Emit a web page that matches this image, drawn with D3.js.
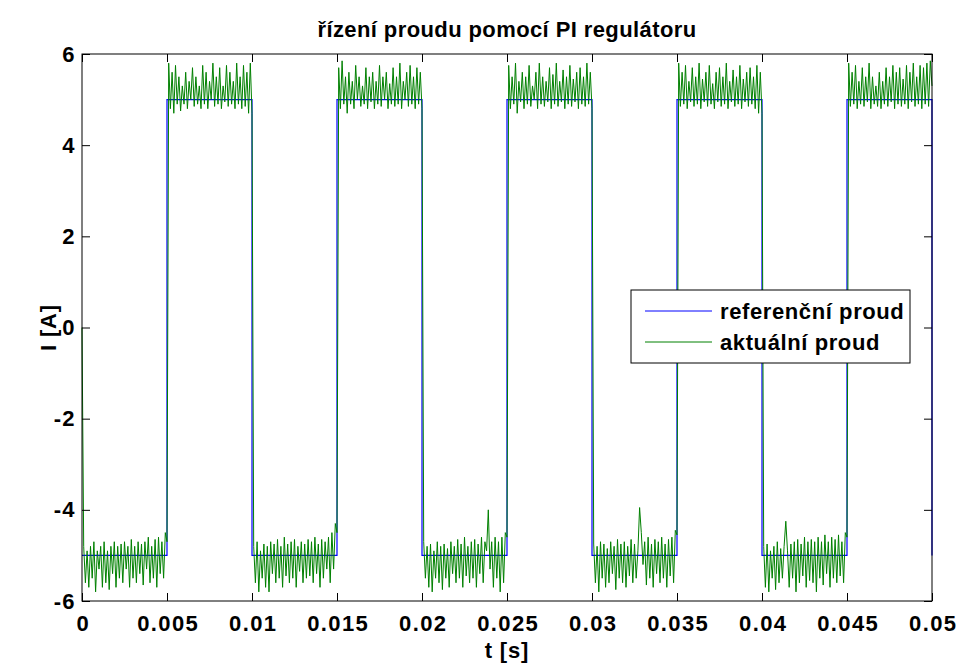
<!DOCTYPE html>
<html>
<head>
<meta charset="utf-8">
<script src="https://cdn.jsdelivr.net/npm/d3@7"></script>
<style>
  body { margin: 0; background: #fff; }
  text { font-family: "Liberation Sans", Arial, sans-serif; font-weight: bold; fill: #000; }
</style>
</head>
<body>
<div class="chart"></div>
<script>
// reference current (square wave), step changes
let refTimes = [0, 0.005, 0.01, 0.015, 0.02, 0.025, 0.03, 0.035, 0.04, 0.045, 0.05];
let refLevels = [-5, 5, -5, 5, -5, 5, -5, 5, -5, 5, -5];

// actual current, sampled every 0.1 ms, one array per half period
let seg1 = [0, -4.8, -5.6, -4.9, -5.7, -4.8, -5.5, -4.7, -5.8, -4.9, -5.3, -4.8, -5.7, -4.7, -5.6, -4.9, -5.75, -4.8, -5.4, -4.7, -5.7, -4.8, -5.5, -4.75, -5.6, -4.7, -5.3, -4.8, -5.7, -4.65, -5.5, -4.8, -5.6, -4.7, -5.4, -4.75, -5.65, -4.7, -5.3, -4.6, -5.6, -4.8, -5.5, -4.65, -5.7, -4.6, -5.4, -4.7, -5.5, -4.5];
let seg2 = [-4.7, 5.8, 4.8, 5.6, 4.7, 5.75, 4.9, 5.5, 4.75, 5.3, 4.9, 5.6, 4.8, 5.4, 5.0, 5.7, 4.85, 5.5, 4.9, 5.3, 4.8, 5.75, 4.9, 5.6, 4.8, 5.4, 5.0, 5.8, 4.85, 5.5, 4.9, 5.7, 4.8, 5.3, 4.95, 5.75, 4.85, 5.6, 4.9, 5.4, 4.8, 5.8, 4.9, 5.5, 4.8, 5.75, 4.85, 5.6, 4.7, 5.8];
let seg3 = [4.7, -4.8, -5.6, -4.7, -5.8, -4.9, -5.5, -4.75, -5.7, -4.8, -5.8, -4.7, -5.4, -4.75, -5.6, -4.65, -5.5, -4.8, -5.7, -4.6, -5.45, -4.75, -5.6, -4.7, -5.5, -4.65, -5.7, -4.8, -5.35, -4.7, -5.6, -4.75, -5.5, -4.65, -5.45, -4.7, -5.6, -4.6, -5.4, -4.75, -5.7, -4.65, -5.5, -4.7, -5.3, -4.6, -5.6, -4.5, -5.3, -4.3];
let seg4 = [-4.5, 5.7, 4.8, 5.85, 4.9, 5.5, 4.7, 5.6, 4.9, 5.4, 4.8, 5.75, 5.0, 5.5, 4.85, 5.3, 4.9, 5.7, 4.8, 5.5, 4.95, 5.6, 4.8, 5.4, 4.9, 5.75, 4.85, 5.5, 5.0, 5.6, 4.8, 5.35, 4.9, 5.7, 4.85, 5.5, 4.9, 5.8, 4.8, 5.4, 5.0, 5.6, 4.85, 5.75, 4.9, 5.5, 4.8, 5.7, 4.9, 5.6];
let seg5 = [4.8, -4.7, -5.5, -4.8, -5.7, -4.75, -5.8, -4.9, -5.5, -4.7, -5.6, -4.8, -5.75, -4.75, -5.5, -4.85, -5.7, -4.7, -5.4, -4.8, -5.6, -4.65, -5.5, -4.75, -5.7, -4.6, -5.45, -4.8, -5.6, -4.7, -5.5, -4.65, -5.7, -4.75, -5.4, -4.6, -5.6, -4.7, -4.9, -4.0, -5.3, -4.7, -5.7, -4.6, -5.5, -4.7, -5.8, -4.6, -5.6, -4.5];
let seg6 = [-4.6, 5.75, 4.8, 5.5, 4.9, 5.8, 4.7, 5.4, 4.95, 5.6, 4.8, 5.5, 4.9, 5.75, 4.85, 5.3, 5.0, 5.6, 4.8, 5.8, 4.9, 5.5, 4.85, 5.4, 4.95, 5.7, 4.8, 5.55, 4.9, 5.8, 4.85, 5.4, 4.95, 5.65, 4.8, 5.5, 4.9, 5.75, 4.85, 5.45, 4.95, 5.6, 4.8, 5.7, 4.9, 5.5, 4.85, 5.8, 4.9, 5.6];
let seg7 = [4.8, -4.75, -5.6, -4.8, -5.8, -4.7, -5.5, -4.75, -5.7, -4.85, -5.6, -4.7, -5.4, -4.8, -5.75, -4.65, -5.5, -4.75, -5.6, -4.7, -5.7, -4.8, -5.45, -4.65, -5.6, -4.75, -5.5, -4.9, -3.95, -4.5, -5.2, -4.7, -5.65, -4.6, -5.5, -4.75, -5.7, -4.65, -5.4, -4.7, -5.6, -4.6, -5.5, -4.75, -5.7, -4.65, -5.45, -4.6, -5.6, -4.45];
let seg8 = [-4.55, 5.8, 4.85, 5.6, 4.9, 5.75, 4.8, 5.4, 4.95, 5.7, 4.85, 5.5, 4.9, 5.8, 4.8, 5.45, 4.95, 5.6, 4.85, 5.75, 4.9, 5.35, 4.8, 5.6, 4.95, 5.7, 4.85, 5.5, 4.9, 5.8, 4.8, 5.4, 4.95, 5.65, 4.85, 5.5, 4.9, 5.75, 4.8, 5.45, 4.95, 5.6, 4.85, 5.7, 4.9, 5.5, 4.8, 5.75, 4.7, 5.6];
let seg9 = [4.7, -4.8, -5.7, -4.75, -5.8, -4.9, -5.5, -4.8, -5.75, -4.7, -5.6, -4.85, -5.5, -4.8, -4.25, -4.9, -5.7, -4.75, -5.5, -4.7, -5.8, -4.65, -5.6, -4.75, -5.45, -4.6, -5.7, -4.7, -5.55, -4.65, -5.6, -4.7, -5.8, -4.6, -5.5, -4.7, -5.65, -4.55, -5.4, -4.7, -5.7, -4.6, -5.5, -4.65, -5.6, -4.55, -5.45, -4.7, -5.6, -4.5];
let seg10 = [-4.6, 5.8, 4.85, 5.6, 4.9, 5.75, 4.8, 5.4, 4.9, 5.7, 4.85, 5.5, 4.95, 5.8, 4.8, 5.5, 4.9, 5.3, 4.85, 5.6, 4.8, 5.4, 4.9, 5.7, 4.85, 5.5, 4.95, 5.75, 4.8, 5.6, 4.9, 5.7, 4.85, 5.45, 4.9, 5.75, 4.8, 5.6, 4.95, 5.8, 4.85, 5.5, 4.9, 5.75, 4.8, 5.7, 4.9, 5.8, 4.85, 5.85, 5.3];
let sampleStep = 0.0001;

let xTicks = [0, 0.005, 0.01, 0.015, 0.02, 0.025, 0.03, 0.035, 0.04, 0.045, 0.05];
let xTickLabels = ["0", "0.005", "0.01", "0.015", "0.02", "0.025", "0.03", "0.035", "0.04", "0.045", "0.05"];
let yTicks = [-6, -4, -2, 0, 2, 4, 6];
let yTickLabels = ["-6", "-4", "-2", "0", "2", "4", "6"];

let titleText = "řízení proudu pomocí PI regulátoru";
let legendNames = ["referenční proud", "aktuální proud"];
let lineColors = ["#0000ff", "#008000"];

let W = 959, H = 664;
let margin = {top: 54, right: 27, bottom: 63, left: 82};
let width = W - margin.left - margin.right,
    height = H - margin.top - margin.bottom;

let svg = d3.select(".chart").append("svg")
    .attr("width", W)
    .attr("height", H)
    .append("g")
    .attr("transform", "translate(" + margin.left + "," + margin.top + ")");

const xScale = d3.scaleLinear().domain([0, 0.05]).range([0, width]);
const yScale = d3.scaleLinear().domain([-6, 6]).range([height, 0]);

// build series
let refData = refTimes.map((t, i) => ({t: t, v: refLevels[i]}));
let actual = [].concat(seg1, seg2, seg3, seg4, seg5, seg6, seg7, seg8, seg9, seg10);
let actData = actual.map((v, i) => ({t: i * sampleStep, v: v}));

// lines
svg.append("path")
    .datum(refData)
    .attr("fill", "none")
    .attr("stroke", lineColors[0])
    .attr("stroke-width", 1.2)
    .attr("d", d3.line().curve(d3.curveStepAfter)
        .x(d => xScale(d.t))
        .y(d => yScale(d.v)));

svg.append("path")
    .datum(actData)
    .attr("fill", "none")
    .attr("stroke", lineColors[1])
    .attr("stroke-width", 1)
    .attr("stroke-linejoin", "round")
    .attr("d", d3.line()
        .x(d => xScale(d.t))
        .y(d => yScale(d.v)));

// axes, MATLAB style: inward ticks on all four sides
let tickLen = 8;
let xb = svg.append("g")
    .attr("transform", `translate(0, ${height})`)
    .call(d3.axisBottom(xScale).tickValues(xTicks).tickSize(-tickLen).tickPadding(14)
        .tickFormat((d, i) => xTickLabels[i]));
let xt = svg.append("g")
    .call(d3.axisTop(xScale).tickValues(xTicks).tickSize(-tickLen).tickFormat(""));
let yl = svg.append("g")
    .call(d3.axisLeft(yScale).tickValues(yTicks).tickSize(-tickLen).tickPadding(6)
        .tickFormat((d, i) => yTickLabels[i]));
let yr = svg.append("g")
    .attr("transform", `translate(${width}, 0)`)
    .call(d3.axisRight(yScale).tickValues(yTicks).tickSize(-tickLen).tickFormat(""));

[xb, xt, yl, yr].forEach(g => {
    g.select(".domain").remove();
    g.selectAll(".tick line").attr("stroke", "#000");
    g.selectAll(".tick text")
        .style("font-family", "'Liberation Sans', Arial, sans-serif")
        .style("font-weight", "bold")
        .style("font-size", "22px")
        .style("letter-spacing", "1.4px")
        .attr("fill", "#000");
});
xb.selectAll(".tick text").attr("dy", "0.71em").attr("dx", "0.7px");

svg.append("rect")
    .attr("width", width)
    .attr("height", height)
    .attr("fill", "none")
    .attr("stroke", "#000")
    .attr("stroke-width", 1);

// title and axis labels
svg.append("text")
    .attr("x", width / 2)
    .attr("y", -17)
    .attr("text-anchor", "middle")
    .style("font-size", "22px")
    .style("letter-spacing", "0.4px")
    .text(titleText);

svg.append("text")
    .attr("x", width / 2)
    .attr("y", height + 57)
    .attr("text-anchor", "middle")
    .style("font-size", "22px")
    .style("letter-spacing", "0.8px")
    .text("t [s]");

svg.append("text")
    .attr("transform", `translate(-26, ${height / 2}) rotate(-90)`)
    .attr("text-anchor", "middle")
    .style("font-size", "22px")
    .style("letter-spacing", "0.8px")
    .text("I [A]");

// legend
let lg = svg.append("g")
    .attr("transform", `translate(${631 - margin.left}, ${290 - margin.top})`);
lg.append("rect")
    .attr("width", 279)
    .attr("height", 73)
    .attr("fill", "#fff")
    .attr("stroke", "#000");
legendNames.forEach((name, i) => {
    let yy = 21 + i * 31;
    lg.append("line")
        .attr("x1", 14).attr("x2", 81)
        .attr("y1", yy).attr("y2", yy)
        .attr("stroke", lineColors[i])
        .attr("stroke-width", 1);
    lg.append("text")
        .attr("x", 89)
        .attr("y", yy + 8)
        .style("font-size", "22px")
        .style("letter-spacing", "0.6px")
        .text(name);
});
</script>
</body>
</html>
